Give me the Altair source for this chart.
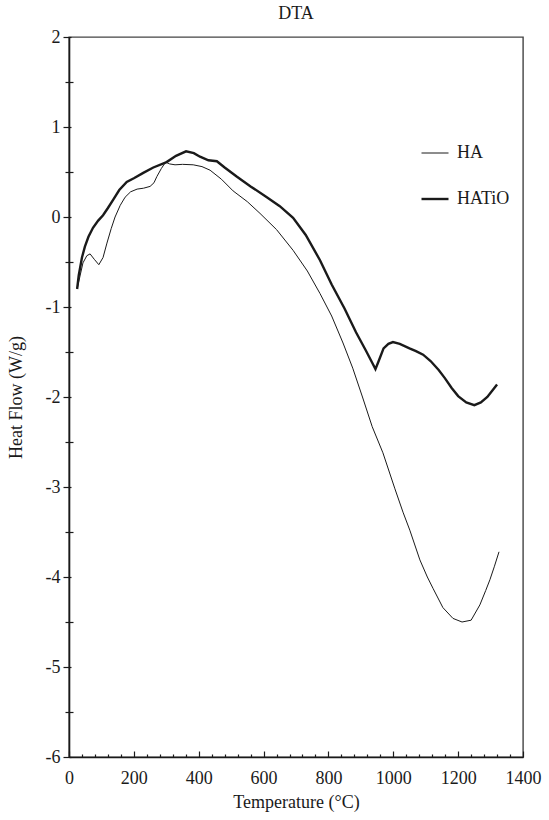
import altair as alt
import pandas as pd

ha_t = [25, 30, 43, 55, 65, 78, 92, 105, 117, 130, 142, 158, 173, 190, 210, 230, 250, 262, 271, 285,
        298, 310, 327, 350, 383, 410, 435, 470, 506, 550, 589, 640, 691, 735, 774, 810, 845, 875, 905,
        935, 968, 1005, 1030, 1051, 1082, 1105, 1123, 1153, 1184, 1212, 1240, 1267, 1285, 1298, 1312, 1326]
ha_v = [-0.80, -0.72, -0.51, -0.43, -0.41, -0.47, -0.53, -0.45, -0.29, -0.13, 0.00, 0.13, 0.22, 0.28,
        0.31, 0.32, 0.34, 0.38, 0.45, 0.54, 0.61, 0.59, 0.58, 0.585, 0.58, 0.56, 0.52, 0.42, 0.29, 0.17,
        0.04, -0.14, -0.37, -0.60, -0.85, -1.10, -1.40, -1.68, -2.00, -2.33, -2.62, -3.02, -3.28, -3.48,
        -3.81, -4.00, -4.13, -4.34, -4.46, -4.50, -4.48, -4.31, -4.15, -4.03, -3.88, -3.72]

hatio_t = [25, 30, 40, 49, 60, 74, 90, 105, 120, 136, 155, 178, 200, 229, 260, 301, 330, 361, 385, 404,
           430, 456, 480, 517, 560, 610, 650, 691, 730, 774, 810, 850, 885, 915, 935, 945, 955, 970, 985,
           999, 1020, 1050, 1070, 1092, 1115, 1140, 1159, 1180, 1200, 1225, 1250, 1270, 1290, 1305, 1320]
hatio_v = [-0.80, -0.65, -0.45, -0.33, -0.22, -0.12, -0.04, 0.02, 0.10, 0.19, 0.30, 0.39, 0.43, 0.49,
           0.55, 0.61, 0.68, 0.73, 0.71, 0.67, 0.63, 0.62, 0.55, 0.45, 0.34, 0.22, 0.12, -0.01, -0.20,
           -0.48, -0.75, -1.02, -1.28, -1.48, -1.62, -1.69, -1.60, -1.46, -1.41, -1.39, -1.41, -1.46,
           -1.49, -1.53, -1.60, -1.70, -1.79, -1.90, -1.99, -2.06, -2.09, -2.06, -2.00, -1.93, -1.86]

series_names = ["HA", "HATiO"]
x_major = [0, 200, 400, 600, 800, 1000, 1200, 1400]
x_minor = [v for v in range(40, 1400, 40) if v % 200 != 0]
y_major = [-6, -5, -4, -3, -2, -1, 0, 1, 2]
y_minor = [-5.5, -4.5, -3.5, -2.5, -1.5, -0.5, 0.5, 1.5]

df = pd.concat([
    pd.DataFrame({"T": ha_t, "HF": ha_v, "series": series_names[0]}),
    pd.DataFrame({"T": hatio_t, "HF": hatio_v, "series": series_names[1]}),
], ignore_index=True)

FONT = "Liberation Serif"
INK = "#1a1a1a"
xs = alt.Scale(domain=[0, 1400], nice=False, zero=False)
ys = alt.Scale(domain=[-6, 2], nice=False, zero=False)

base = alt.Chart(df)

text_style = dict(labelFont=FONT, titleFont=FONT, labelFontSize=18, titleFontSize=18,
                  labelColor=INK, titleColor=INK, titleFontWeight="normal",
                  domainColor=INK, domainWidth=1.6, labelExpr="'' + datum.value",
                  labelFlush=False, labelOverlap=False)

main = base.mark_line(color=INK).encode(
    x=alt.X("T:Q", scale=xs, title="Temperature (°C)",
            axis=alt.Axis(values=x_major, ticks=False, domain=True, grid=False,
                          labelPadding=12, titlePadding=6, orient="bottom", **text_style)),
    y=alt.Y("HF:Q", scale=ys, title="Heat Flow (W/g)",
            axis=alt.Axis(values=y_major, ticks=False, domain=True, grid=False,
                          labelPadding=9, titlePadding=20, orient="left", **text_style)),
    strokeWidth=alt.StrokeWidth("series:N",
                                scale=alt.Scale(domain=series_names, range=[1.0, 2.4]),
                                legend=alt.Legend(title=None, orient="none", legendX=351, legendY=102,
                                                  symbolType="stroke", symbolSize=729,
                                                  symbolStrokeColor=INK, labelFont=FONT,
                                                  labelFontSize=18, labelColor=INK,
                                                  labelOffset=7, rowPadding=22)),
    detail="series:N",
)


def tick_layer(xaxis=None, yaxis=None):
    return base.mark_line(strokeOpacity=0).encode(
        x=alt.X("T:Q", scale=xs, title=None, axis=xaxis),
        y=alt.Y("HF:Q", scale=ys, title=None, axis=yaxis),
        detail="series:N",
    )


def tick_axis(vals, orient, size, offset):
    return alt.Axis(values=vals, orient=orient, labels=False, domain=False, grid=False,
                    ticks=True, tickSize=size, offset=offset, title=None, tickColor=INK,
                    tickWidth=1.2)


l_xmaj = tick_layer(xaxis=tick_axis(x_major, "bottom", 6, -6))
l_xmin = tick_layer(xaxis=tick_axis(x_minor, "bottom", 3, -3))
l_ymaj = tick_layer(yaxis=tick_axis(y_major, "left", 8, -2))
l_ymin = tick_layer(yaxis=tick_axis(y_minor, "left", 8, -4))

chart = alt.layer(main, l_xmaj, l_xmin, l_ymaj, l_ymin).resolve_axis(
    x="independent", y="independent"
).properties(
    width=454, height=720,
    autosize=alt.AutoSizeParams(type="none"),
    padding={"left": 69, "top": 37, "right": 26, "bottom": 63},
    background="white",
    title=alt.TitleParams("DTA", font=FONT, fontSize=18, fontWeight="normal", color=INK, offset=5),
).configure_view(
    stroke="#444444", strokeWidth=1.4,
)

chart.save("out.html", embed_options={"renderer": "svg", "actions": False})
